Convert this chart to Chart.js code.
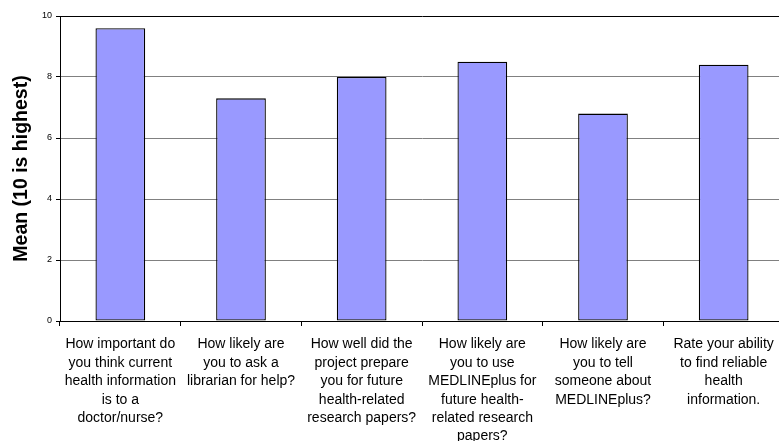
<!DOCTYPE html>
<html>
<head>
<meta charset="utf-8">
<script src="https://cdn.jsdelivr.net/npm/chart.js@4.4.0/dist/chart.umd.min.js"></script>
<style>
  html, body { margin: 0; padding: 0; background: #fff; overflow: hidden; }
  #chart { display: block; }
</style>
</head>
<body>
<canvas id="chart" width="784" height="441"></canvas>
<script>
// questions (x categories), broken into lines the way the original wraps them
const questions = [
  ['How important do', 'you think current', 'health information', 'is to a', 'doctor/nurse?'],
  ['How likely are', 'you to ask a', 'librarian for help?'],
  ['How well did the', 'project prepare', 'you for future', 'health-related', 'research papers?'],
  ['How likely are', 'you to use', 'MEDLINEplus for', 'future health-', 'related research', 'papers?'],
  ['How likely are', 'you to tell', 'someone about', 'MEDLINEplus?'],
  ['Rate your ability', 'to find reliable', 'health', 'information.']
];
const meanScores = [9.6, 7.3, 8.0, 8.5, 6.8, 8.4];
const yTicks = [0, 2, 4, 6, 8, 10];

const fontFamily = '"Liberation Sans", Arial, Helvetica, sans-serif';

// the original plot runs a few pixels past the right edge of the picture,
// so the canvas is a little wider than the window and gets cropped
const ctx = document.getElementById('chart').getContext('2d');
new Chart(ctx, {
  type: 'bar',
  data: {
    labels: questions,
    datasets: [{
      data: meanScores,
      backgroundColor: '#9999ff',
      borderColor: '#000',
      borderWidth: 1.3,
      borderSkipped: false,
      barPercentage: 0.412,
      categoryPercentage: 1.0
    }]
  },
  options: {
    responsive: false,
    animation: false,
    layout: { padding: { top: 16, right: 0, left: 0, bottom: 0 } },
    plugins: {
      legend: { display: false },
      tooltip: { enabled: false }
    },
    scales: {
      x: {
        offset: true,
        grid: {
          offset: true,
          drawOnChartArea: false,
          drawTicks: true,
          tickLength: 5,
          tickColor: '#000'
        },
        border: { display: true, color: '#000', width: 1 },
        ticks: {
          autoSkip: false,
          maxRotation: 0,
          minRotation: 0,
          color: '#000',
          padding: 9,
          font: { family: fontFamily, size: 14, lineHeight: 1.32 }
        },
        afterFit: (scale) => { scale.height = 120; }
      },
      y: {
        min: 0,
        max: 10,
        afterBuildTicks: (scale) => { scale.ticks = yTicks.map(v => ({ value: v })); },
        grid: {
          color: (c) => (c.tick && c.tick.value === 10 ? '#000' : '#808080'),
          lineWidth: 1,
          drawTicks: true,
          tickLength: 4,
          tickColor: '#000'
        },
        border: { display: true, color: '#000', width: 1 },
        ticks: {
          color: '#000',
          padding: 4,
          font: { family: fontFamily, size: 9 }
        },
        title: {
          display: true,
          text: 'Mean (10 is highest)',
          color: '#000',
          padding: { top: 10, bottom: 0 },
          font: { family: fontFamily, size: 19.5, weight: 'bold' }
        },
        afterFit: (scale) => { scale.width = 60; }
      }
    }
  }
});
</script>
</body>
</html>
